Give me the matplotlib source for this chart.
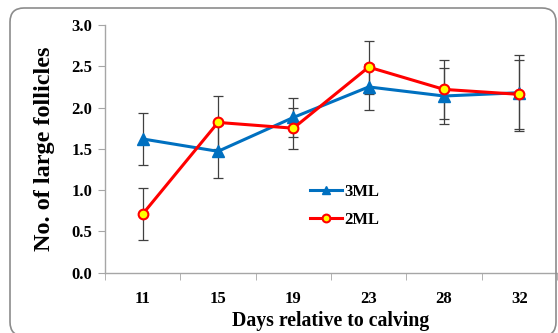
import numpy as np
import matplotlib
matplotlib.use('Agg')
import matplotlib.pyplot as plt
from matplotlib.patches import FancyBboxPatch

# data
days = ['11', '15', '19', '23', '28', '32']
ml3_mean = [1.62, 1.47, 1.88, 2.25, 2.14, 2.18]
ml3_err = [0.31, 0.32, 0.24, 0.28, 0.34, 0.46]
ml2_mean = [0.71, 1.82, 1.75, 2.49, 2.22, 2.16]
ml2_err = [0.32, 0.32, 0.25, 0.32, 0.36, 0.42]

plt.rcParams['font.family'] = ['Liberation Serif', 'DejaVu Serif']
plt.rcParams['font.weight'] = 'bold'

BLUE = '#0070C0'
RED = '#FF0000'
GRID = '#A6A6A6'

fig = plt.figure(figsize=(5.58, 3.33), dpi=100)
ax = fig.add_axes([105 / 558, 1 - 272.7 / 333, 452 / 558, (272.7 - 25) / 333])

# rounded frame around the chart (pixel coords)
frame = FancyBboxPatch((10, -3), 546, 328,
                       boxstyle='round,pad=0,rounding_size=14',
                       transform=None, fill=False,
                       ec='#8C8C8C', lw=1.2, clip_on=False)
fig.patches.append(frame)

x = np.arange(len(days))
ax.errorbar(x, ml3_mean, yerr=ml3_err, fmt='none', ecolor='#404040', elinewidth=0.9, capsize=3.5, capthick=0.9, zorder=2)
ax.errorbar(x, ml2_mean, yerr=ml2_err, fmt='none', ecolor='#404040', elinewidth=0.9, capsize=3.5, capthick=0.9, zorder=2)
ax.plot(x, ml3_mean, color=BLUE, lw=2.2, marker='^', ms=8, mfc=BLUE, mec=BLUE, label='3ML', zorder=3)
ax.plot(x, ml2_mean, color=RED, lw=2.2, marker='o', ms=7, mfc='#FFFF00', mec=RED, mew=1.5, label='2ML', zorder=4)

ax.set_xlim(-0.5, len(days) - 0.5)
ax.set_ylim(0, 3.0)
ax.set_yticks(np.arange(0, 3.01, 0.5))
ax.set_yticklabels(['%.1f' % v for v in np.arange(0, 3.01, 0.5)])
ax.set_xticks(x)
ax.set_xticklabels(days)
ax.set_xticks(np.arange(-0.5, len(days), 1.0), minor=True)
ax.tick_params(axis='x', which='major', length=0, pad=13, labelsize=12)
ax.tick_params(axis='x', which='minor', length=5, color=GRID, direction='out')
ax.tick_params(axis='y', length=5, color=GRID, direction='out', labelsize=12, pad=4)

for s in ['top', 'right']:
    ax.spines[s].set_visible(False)
for s in ['left', 'bottom']:
    ax.spines[s].set_color(GRID)
    ax.spines[s].set_linewidth(1.0)

ax.set_ylabel('No. of large follicles', fontsize=17.5, fontweight='bold', labelpad=12)
ax.set_xlabel('Days relative to calving', fontsize=14.2, fontweight='bold', labelpad=3)

ax.legend(loc='upper left', bbox_to_anchor=(0.42, 0.42), frameon=False,
          prop={'size': 12, 'weight': 'bold'}, handlelength=1.9, handletextpad=0.15,
          labelspacing=0.75, markerscale=0.8)

fig.savefig('out.png', dpi=100)
